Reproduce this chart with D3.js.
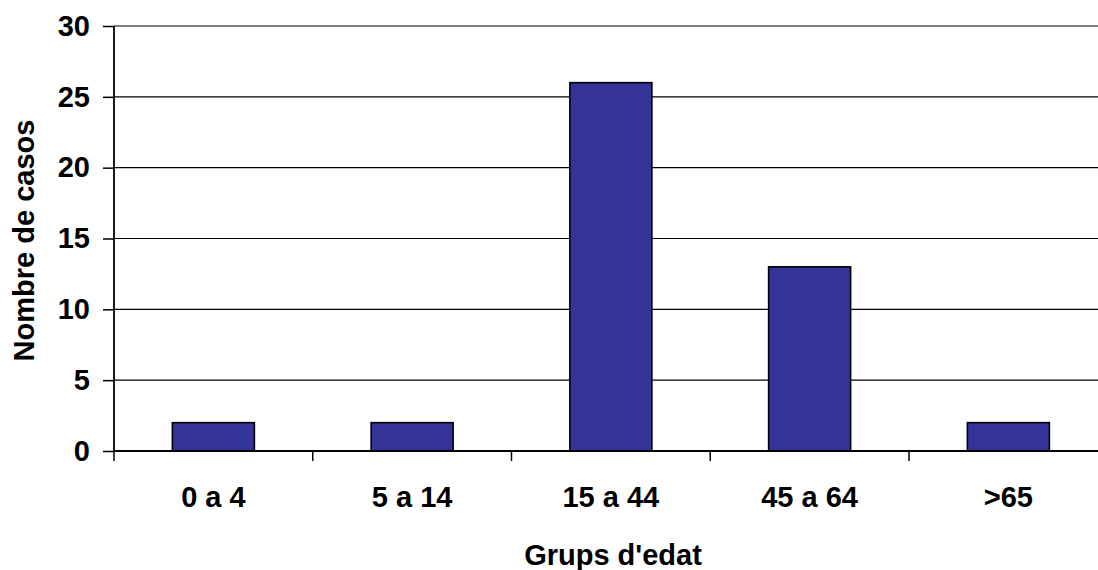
<!DOCTYPE html>
<html><head><meta charset="utf-8">
<script src="https://cdn.jsdelivr.net/npm/d3@7"></script>
<style>body{margin:0;background:#fff}svg{display:block}</style>
</head><body>
<svg id="c" width="1098" height="570"></svg>
<script>
const categories = ["0 a 4", "5 a 14", "15 a 44", "45 a 64", ">65"];
const values = [2, 2, 26, 13, 2];
const yTicks = [0, 5, 10, 15, 20, 25, 30];
const yTitle = "Nombre de casos";
const xTitle = "Grups d'edat";

(function () {
const svg = d3.select("#c");
const mL = 114, mT = 26, mB = 451, bandW = 198.75;
const mR = mL + bandW * categories.length;
const font = "'Liberation Sans', Arial, sans-serif";
const fs = 29;

const x = d3.scaleBand().domain(categories).range([mL, mR]).paddingInner(0).paddingOuter(0);
const y = d3.scaleLinear().domain([0, 30]).range([mB, mT]);

// gridlines
svg.append("g").selectAll("line").data(yTicks.filter(d => d > 0)).join("line")
  .attr("x1", mL).attr("x2", mR)
  .attr("y1", d => y(d)).attr("y2", d => y(d))
  .attr("stroke", "#000").attr("stroke-width", 1.2);

// bars
const bw = 82;
svg.append("g").selectAll("rect").data(values).join("rect")
  .attr("x", (d, i) => x(categories[i]) + (x.bandwidth() - bw) / 2)
  .attr("y", d => y(d))
  .attr("width", bw)
  .attr("height", d => y(0) - y(d))
  .attr("fill", "#333399")
  .attr("stroke", "#000").attr("stroke-width", 1.6);

// y axis
const yAxis = d3.axisLeft(y).tickValues(yTicks).tickSize(11).tickPadding(13).tickFormat(d3.format("d"));
const gy = svg.append("g").attr("transform", `translate(${mL},0)`).call(yAxis);
gy.select(".domain").attr("stroke-width", 1.8).attr("d", `M0,${mB}V${mT}`);
gy.selectAll(".tick line").attr("stroke-width", 1.5);
gy.selectAll("text").attr("font-family", font).attr("font-weight", "bold").attr("font-size", fs).attr("fill", "#000");

// x axis
const gx = svg.append("g").attr("transform", `translate(0,${mB})`);
gx.append("line").attr("x1", mL).attr("x2", mR).attr("y1", 0).attr("y2", 0)
  .attr("stroke", "#000").attr("stroke-width", 1.8);
const bounds = categories.map(c => x(c)).concat([mR]);
gx.selectAll("line.t").data(bounds).join("line").attr("class", "t")
  .attr("x1", d => d).attr("x2", d => d).attr("y1", 0).attr("y2", 10)
  .attr("stroke", "#000").attr("stroke-width", 1.5);
gx.selectAll("text").data(categories).join("text")
  .attr("x", d => x(d) + x.bandwidth() / 2).attr("y", 56)
  .attr("text-anchor", "middle")
  .attr("font-family", font).attr("font-weight", "bold").attr("font-size", fs)
  .text(d => d);

// titles
svg.append("text").attr("x", (mL + 1098) / 2 + 7).attr("y", 565)
  .attr("text-anchor", "middle").attr("font-family", font).attr("font-weight", "bold").attr("font-size", fs)
  .text(xTitle);
svg.append("text").attr("transform", `translate(34,${(mT + mB) / 2 + 2}) rotate(-90)`)
  .attr("text-anchor", "middle").attr("font-family", font).attr("font-weight", "bold").attr("font-size", fs)
  .text(yTitle);
})();
</script>
</body></html>
